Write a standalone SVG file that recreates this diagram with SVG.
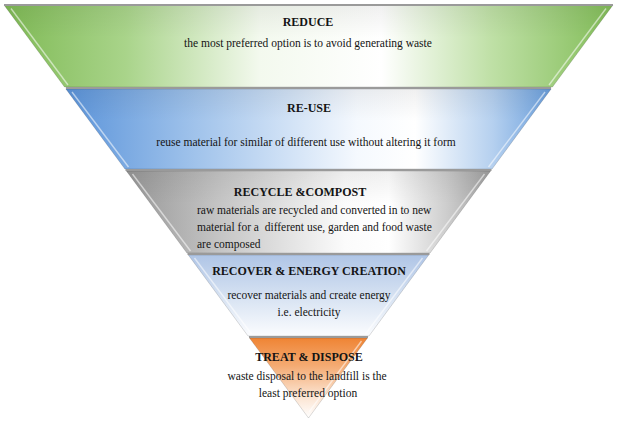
<svg xmlns="http://www.w3.org/2000/svg" width="617" height="423" viewBox="0 0 617 423">
<defs>
<linearGradient id="gGreen" x1="0" y1="0" x2="1" y2="0">
<stop offset="0" stop-color="#7fba55"/>
<stop offset="0.2" stop-color="#a9d48a"/>
<stop offset="0.42" stop-color="#f3f9ee"/>
<stop offset="0.62" stop-color="#ffffff"/>
<stop offset="0.8" stop-color="#bfe0a6"/>
<stop offset="1" stop-color="#82bd58"/>
</linearGradient>
<linearGradient id="gBlue" x1="0" y1="0" x2="1" y2="0">
<stop offset="0" stop-color="#5b94da"/>
<stop offset="0.25" stop-color="#9cc0ea"/>
<stop offset="0.6" stop-color="#f5f9fe"/>
<stop offset="0.72" stop-color="#ffffff"/>
<stop offset="0.88" stop-color="#b5d0ef"/>
<stop offset="1" stop-color="#6a9fdd"/>
</linearGradient>
<linearGradient id="gGrey" x1="0" y1="0" x2="1" y2="0">
<stop offset="0" stop-color="#979797"/>
<stop offset="0.25" stop-color="#c4c4c4"/>
<stop offset="0.6" stop-color="#fbfbfb"/>
<stop offset="0.72" stop-color="#ffffff"/>
<stop offset="0.88" stop-color="#cdcdcd"/>
<stop offset="1" stop-color="#a0a0a0"/>
</linearGradient>
<linearGradient id="gRecover" x1="0" y1="0" x2="0" y2="1">
<stop offset="0" stop-color="#afc5e6"/>
<stop offset="0.55" stop-color="#d9e4f3"/>
<stop offset="1" stop-color="#fbfcfe"/>
</linearGradient>
<linearGradient id="gOrange" x1="0" y1="0" x2="0" y2="1">
<stop offset="0" stop-color="#ef8434"/>
<stop offset="0.35" stop-color="#f4ab73"/>
<stop offset="0.7" stop-color="#fbe0cb"/>
<stop offset="1" stop-color="#ffffff"/>
</linearGradient>
<linearGradient id="gShade" x1="0" y1="0" x2="0" y2="1">
<stop offset="0" stop-color="#000000" stop-opacity="0.06"/>
<stop offset="0.4" stop-color="#000000" stop-opacity="0"/>
<stop offset="1" stop-color="#ffffff" stop-opacity="0"/>
</linearGradient>
</defs>
<style>
.seg{stroke:#000;stroke-opacity:0.18;stroke-width:0.8}
.top{stroke:#9a9a9a;stroke-width:1.8}
.hl{fill:none;stroke:#ffffff;stroke-opacity:0.55;stroke-width:1.4}
.title{font-family:"Liberation Serif","Times New Roman",serif;font-size:12px;font-weight:bold;fill:#141414;text-anchor:middle}
.body{font-family:"Liberation Serif","Times New Roman",serif;font-size:11.5px;fill:#141414;text-anchor:middle}
.bodyl{font-family:"Liberation Serif","Times New Roman",serif;font-size:11.5px;fill:#141414}
</style>

<g id="reduce">
<polygon class="seg" points="4,5 613,5 552.5,87 64.5,87" fill="url(#gGreen)"/>
<polygon points="4,5 613,5 552.5,87 64.5,87" fill="url(#gShade)"/>
<line class="top" x1="4" y1="5" x2="613" y2="5"/>
<polyline class="hl" points="606,8.5 549,85"/>
<polyline class="hl" points="11,8.5 68,85" stroke-opacity="0.3"/>
<text class="title" x="308" y="26">REDUCE</text>
<text class="body" x="308" y="47">the most preferred option is to avoid generating waste</text>
</g>

<g id="reuse">
<polygon class="seg" points="65.9,89 551.1,89 492.1,169 124.9,169" fill="url(#gBlue)"/>
<polygon points="65.9,89 551.1,89 492.1,169 124.9,169" fill="url(#gShade)"/>
<line class="top" x1="65.9" y1="88" x2="551.1" y2="88"/>
<polyline class="hl" points="545,92 488.5,167"/>
<polyline class="hl" points="72,92 128.5,167" stroke-opacity="0.3"/>
<text class="title" x="309" y="112">RE-USE</text>
<text class="body" x="306" y="146">reuse material for similar of different use without altering it form</text>
</g>

<g id="recycle">
<polygon class="seg" points="126.4,171 490.6,171 430.1,253 186.9,253" fill="url(#gGrey)"/>
<polygon points="126.4,171 490.6,171 430.1,253 186.9,253" fill="url(#gShade)"/>
<line class="top" x1="125.5" y1="170" x2="491.5" y2="170"/>
<polyline class="hl" points="484.5,174 426.5,251"/>
<polyline class="hl" points="132.5,174 190.5,251" stroke-opacity="0.3"/>
<text class="title" x="300" y="196">RECYCLE &amp;COMPOST</text>
<text class="bodyl" x="197" y="214">raw materials are recycled and converted in to new</text>
<text class="bodyl" x="197" y="231" xml:space="preserve">material for a  different use, garden and food waste</text>
<text class="bodyl" x="197" y="248">are composed</text>
</g>

<g id="recover">
<polygon class="seg" points="188.3,255 428.7,255 369,336 248,336" fill="url(#gRecover)"/>
<line class="top" x1="187.5" y1="254" x2="429.5" y2="254"/>
<polyline class="hl" points="422.5,258 365.5,334"/>
<polyline class="hl" points="194.5,258 251.5,334" stroke-opacity="0.4"/>
<text class="title" x="309" y="275" fill="#1c2540">RECOVER &amp; ENERGY CREATION</text>
<text class="body" x="309" y="299">recover materials and create energy</text>
<text class="body" x="309" y="316">i.e. electricity</text>
</g>

<g id="treat">
<polygon class="seg" points="249.5,338 367.5,338 308.5,418" fill="url(#gOrange)"/>
<line class="top" x1="249" y1="337" x2="368" y2="337"/>
<polyline class="hl" points="361.5,341 309,412"/>
<text class="title" x="309" y="361">TREAT &amp; DISPOSE</text>
<text class="body" x="307" y="380">waste disposal to the landfill is the</text>
<text class="body" x="308" y="397">least preferred option</text>
</g>

<g id="connectors"></g>
</svg>
